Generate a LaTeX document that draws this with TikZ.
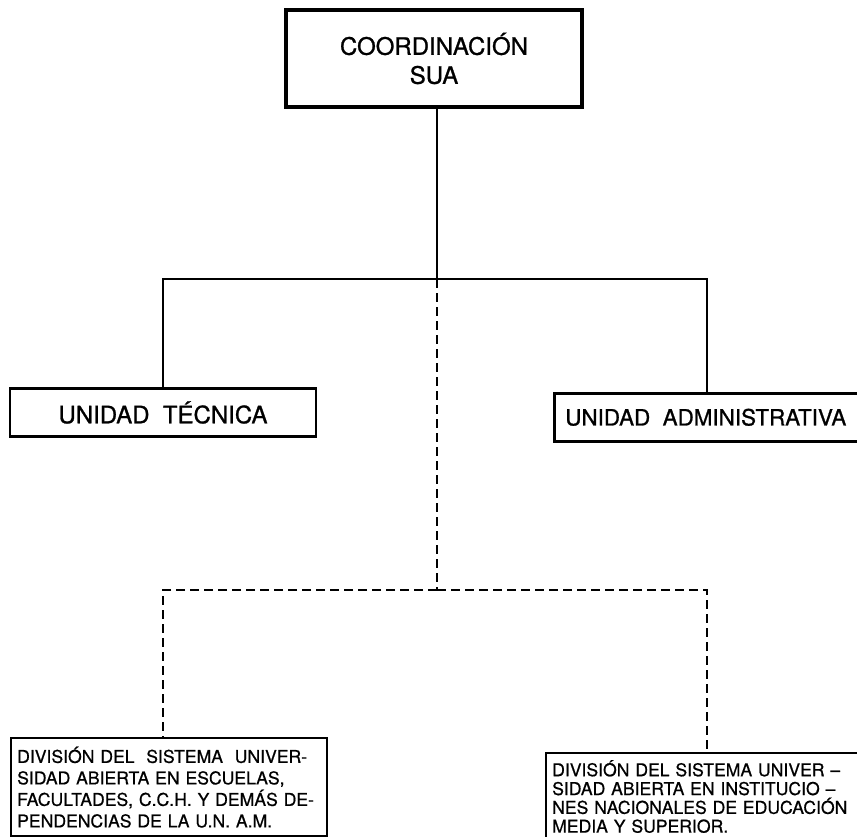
\documentclass[tikz,border=0pt]{standalone}
\usepackage{fontspec}
\setmainfont{TeX Gyre Heros}
\newfontfamily\bigfont[FakeBold=1.0]{TeX Gyre Heros}
\newfontfamily\smallfont[FakeBold=0.7]{TeX Gyre Heros}
\begin{document}
\begin{tikzpicture}[x=1pt,y=-1pt,
  topbox/.style={draw,line width=4.5pt,minimum width=296pt,minimum height=97pt,font=\bigfont\fontsize{24}{29}\selectfont,align=center,inner sep=0pt},
  unitbox/.style={draw,line width=2.6pt,minimum height=48pt,font=\bigfont\fontsize{24}{26}\selectfont,inner sep=0pt},
  divbox/.style={draw,line width=2.4pt,font=\smallfont\fontsize{17.6}{21.5}\selectfont,align=left,inner ysep=0pt,inner xsep=6pt},
  solidline/.style={line width=2.2pt},
  dashline/.style={line width=1.8pt,dash pattern=on 9pt off 5pt}]
\useasboundingbox (0,0) rectangle (857,837);
\node[topbox] (coord) at (434,58.5) {COORDINACIÓN\\SUA};
\node[unitbox,minimum width=306pt] (ut) at (163,412.5) {UNIDAD\ \ TÉCNICA};
\node[unitbox,minimum width=312pt,anchor=north west,font=\bigfont\fontsize{22.4}{26}\selectfont] (ua) at (553,392) {\hspace*{11pt}UNIDAD\ \ ADMINISTRATIVA\hspace*{30pt}};
\node[divbox,minimum height=98pt,anchor=north west,text width=304pt] (lb) at (10,737) {DIVISIÓN DEL\ \ SISTEMA\ \ UNIVER-\\SIDAD ABIERTA EN ESCUELAS,\\FACULTADES, C.C.H. Y DEMÁS DE-\\PENDENCIAS DE LA U.N. A.M.};
\node[divbox,anchor=north west,text width=318pt,inner ysep=0pt,font=\smallfont\fontsize{17.6}{18.8}\selectfont] (rb) at (545,752) {\rule{0pt}{23pt}DIVISIÓN DEL SISTEMA UNIVER –\\SIDAD ABIERTA EN INSTITUCIO –\\NES NACIONALES DE EDUCACIÓN\\MEDIA Y SUPERIOR.\rule[-20pt]{0pt}{20pt}};
\coordinate (j1) at (437,279);
\coordinate (j2) at (437,590);
\draw[solidline] (coord.south -| j1) -- (j1);
\draw[solidline] (ut.north) -- (ut.north |- j1) -- (707,279) coordinate (ja) -- (ja |- ua.north);
\draw[dashline] (j1) -- (j2);
\draw[dashline] (j2) -- (163,590) coordinate (jl) -- (jl |- lb.north);
\draw[dashline] (j2) -- (707,590) coordinate (jr) -- (jr |- rb.north);
\end{tikzpicture}
\end{document}
